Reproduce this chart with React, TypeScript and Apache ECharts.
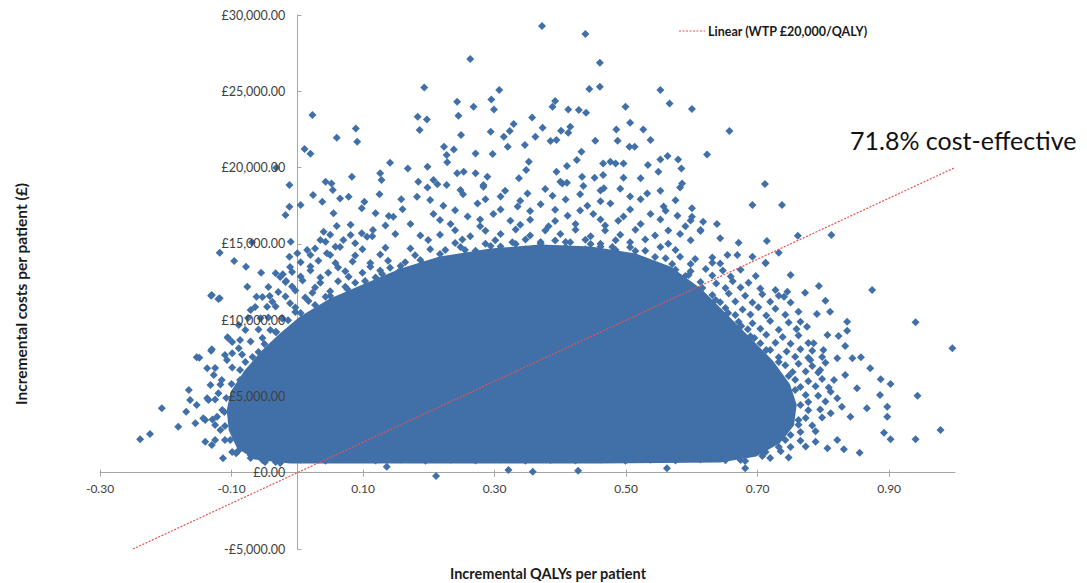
import React, { useEffect, useRef } from "react";
import * as echarts from "echarts";

const FONT = 'Lato, "Open Sans", "DejaVu Sans", sans-serif';
const POINT_COLOR = "#4170A9";
const LINE_COLOR = "#E5534F";
const LEGEND_NAME = "Linear (WTP £20,000/QALY)";
const ANNOTATION = "71.8% cost-effective";
const X_TITLE = "Incremental QALYs per patient";
const Y_TITLE = "Incremental costs per patient (£)";

// axis ticks
const xTickValues = [-0.3, -0.1, 0.1, 0.3, 0.5, 0.7, 0.9];
const xMin = -0.3;
const xMax = 1.0;
const yMin = -5000;
const yMax = 30000;
const yInterval = 5000;

// willingness-to-pay line (£20,000 per QALY)
const wtpX = [-0.25, 1.0];
const wtpY = [-5000, 20000];

// outline of the fully dense core of the simulation cloud (QALY, £)
const coreBoundary: [number, number][] = [
  [-0.011, 700], [-0.064, 960], [-0.09, 1680], [-0.102, 2800], [-0.105, 4110],
  [-0.099, 5290], [-0.079, 6600], [-0.053, 7910], [-0.026, 9020], [0.005, 10140],
  [0.05, 11320], [0.103, 12300], [0.157, 13280], [0.217, 14070], [0.294, 14590],
  [0.37, 14860], [0.446, 14730], [0.514, 14270], [0.567, 13420], [0.613, 11970],
  [0.651, 10330], [0.689, 8700], [0.722, 7250], [0.747, 5750], [0.757, 4440],
  [0.753, 3130], [0.732, 2010], [0.697, 1160], [0.643, 770], [0.461, 700], [0.233, 700],
];

// simulations lying just on the edge of the dense core
const pointsEdge: [number, number][] = [
  [0.005, 10470], [0.027, 10990], [0.05, 11580], [0.076, 12040], [0.103, 12560], [0.129, 13020],
  [0.157, 13550], [0.187, 13940], [0.217, 14330], [0.255, 14590], [0.294, 14860], [0.332, 14990],
  [0.37, 15120], [0.408, 15120], [0.446, 14990], [0.479, 14790], [0.514, 14530], [0.544, 14140],
  [0.57, 13680], [0.595, 12960], [0.616, 12100], [0.636, 11320], [0.655, 10460], [0.675, 9610],
  [0.695, 8830], [0.713, 8040], [0.732, 7250], [0.747, 6340], [0.757, 5420], [0.765, 4440],
  [0.762, 3450], [0.75, 2470], [0.732, 1680], [0.707, 1090], [0.681, 770],
  [-0.014, 10000], [-0.032, 9220], [-0.05, 8430], [-0.068, 7580], [-0.087, 6730], [-0.1, 5810],
  [-0.108, 4900], [-0.111, 3980], [-0.11, 3060], [-0.102, 2140], [-0.09, 1420], [-0.071, 960],
  [-0.049, 700], [-0.026, 640],
];

// individual simulations visible above £20,000
const pointsTop: [number, number][] = [
  [0.372, 29272], [0.438, 28748], [0.263, 27110], [0.46, 26867], [0.307, 25078], [0.444, 25144],
  [0.46, 25295], [0.552, 25078], [0.566, 24207], [0.243, 24312], [0.268, 23984], [0.295, 24469],
  [0.299, 23814], [0.245, 23394], [0.392, 24358], [0.388, 23984], [0.412, 23814], [0.428, 23768],
  [0.439, 23591], [0.499, 23984], [0.357, 23289], [0.506, 22936], [0.294, 22346], [0.249, 22130],
  [0.329, 22850], [0.323, 22392], [0.314, 22018], [0.373, 22608], [0.362, 22018], [0.401, 22411],
  [0.415, 22673], [0.412, 22280], [0.485, 22503], [0.526, 22503], [0.537, 21802], [0.487, 21756],
  [0.505, 21363], [0.513, 21363], [0.453, 21756], [0.385, 21736], [0.394, 21802], [0.223, 21363],
  [0.238, 21192], [0.227, 20819], [0.228, 20341], [0.271, 20930], [0.297, 20884], [0.32, 21363],
  [0.346, 21474], [0.352, 20380], [0.432, 21035], [0.425, 20491], [0.41, 20098], [0.465, 20275],
  [0.476, 20380], [0.484, 20275], [0.496, 20275], [0.533, 20164], [0.552, 20537], [0.563, 20753],
  [0.579, 20537], [0.023, 23440], [0.011, 21212], [0.02, 20904], [0.06, 21953], [0.089, 22569],
  [0.091, 21690], [0.141, 20314], [0.183, 23329], [0.186, 22457], [0.197, 23158], [0.193, 25255],
  [0.198, 20052], [0.6, 23833], [0.657, 22392], [0.623, 20864],
];

// individual simulations between £15,000 and £20,000
const pointsUpper: [number, number][] = [
  [0.348, 19836], [0.584, 19947], [0.585, 18964], [0.549, 19725], [0.522, 19292], [0.496, 19331],
  [0.465, 19508], [0.452, 19331], [0.433, 19397], [0.394, 19725], [0.243, 19620], [0.253, 19725],
  [0.271, 19620], [0.289, 19397], [0.207, 19181], [0.227, 18853], [0.283, 18853], [0.337, 19292],
  [0.4, 19069], [0.41, 19004], [0.466, 18637], [-0.032, 19987], [-0.012, 18853], [0.005, 17542],
  [-0.012, 17431], [-0.018, 16887], [-0.01, 15137], [-0.069, 15098], [0.024, 18198], [0.038, 17759],
  [0.043, 19069], [0.052, 18964], [0.054, 18525], [0.065, 17981], [0.078, 18086], [0.083, 19397],
  [0.055, 16998], [0.06, 16166], [0.098, 17326], [0.102, 17759], [0.119, 16998], [0.126, 19620],
  [0.128, 19181], [0.125, 18244], [0.168, 19947], [0.184, 19069], [0.182, 18086], [0.198, 18702],
  [0.158, 17916], [0.16, 17261], [0.139, 16821], [0.146, 16776], [0.04, 15793], [0.043, 15137],
  [0.035, 15249], [0.07, 15249], [0.081, 15576], [0.088, 15033], [0.098, 15688], [0.106, 15465],
  [0.115, 15904], [0.711, 18918], [0.692, 17542], [0.737, 17542], [0.761, 15531], [0.812, 15576],
  [0.6, 17326], [0.6, 16776], [0.617, 16448], [0.638, 16297], [0.613, 15904], [0.643, 15360],
  [0.671, 15072], [0.714, 15183],
];

// semi-dense fringe just above the core
const pointsFringeTop: [number, number][] = [
  [0.213, 18900], [0.283, 18750], [0.403, 18950], [0.435, 18800], [0.582, 18700],
  [0.252, 18250], [0.309, 18100], [0.35, 18300], [0.388, 18150], [0.43, 18250], [0.506, 18100], [0.532, 18300],
  [0.222, 17500], [0.274, 17650], [0.335, 17450], [0.37, 17600], [0.441, 17500], [0.476, 17650], [0.557, 17450],
  [0.207, 16950], [0.259, 16800], [0.298, 16950], [0.411, 16850], [0.45, 16950], [0.496, 16800], [0.537, 16950], [0.578, 16850],
  [0.233, 16300], [0.278, 16150], [0.339, 16250], [0.382, 16150], [0.423, 16300], [0.468, 16200], [0.522, 16300], [0.59, 16150],
  [0.217, 15600], [0.263, 15500], [0.309, 15650], [0.354, 15550], [0.4, 15650], [0.446, 15500], [0.491, 15600], [0.544, 15550], [0.582, 15650],
  [0.24, 15050], [0.286, 15000], [0.327, 15100], [0.37, 15000], [0.415, 15100], [0.461, 15000], [0.506, 15100], [0.564, 15000],
  [0.225, 14600], [0.271, 14550], [0.347, 14650], [0.392, 14550], [0.438, 14650], [0.484, 14600], [0.529, 14550], [0.575, 14600],
  [0.248, 18530], [0.316, 18480], [0.377, 18600], [0.461, 18500], [0.491, 18620], [0.552, 18480],
  [0.202, 17870], [0.286, 17920], [0.339, 17820], [0.408, 17900], [0.461, 17800], [0.522, 17930], [0.575, 17850],
  [0.24, 17210], [0.309, 17260], [0.354, 17150], [0.392, 17230], [0.43, 17180], [0.506, 17250], [0.56, 17170],
  [0.217, 16560], [0.278, 16600], [0.324, 16520], [0.354, 16580], [0.392, 16500], [0.461, 16590], [0.488, 16520], [0.552, 16600], [0.598, 16530],
  [0.24, 15900], [0.286, 15860], [0.332, 15940], [0.377, 15880], [0.423, 15920], [0.468, 15870], [0.514, 15930], [0.564, 15880], [0.613, 15850],
  [0.199, 15250], [0.251, 15290], [0.301, 15230], [0.347, 15280], [0.392, 15220], [0.438, 15270], [0.484, 15240], [0.529, 15290], [0.598, 15230],
  [0.248, 14790], [0.309, 14820], [0.408, 14780], [0.461, 14810], [0.506, 14770], [0.552, 14800],
];

// semi-dense fringe on the upper left of the core
const pointsFringeLeft: [number, number][] = [
  [0.005, 13800], [0.032, 13900], [0.058, 13750], [0.084, 13850], [0.111, 13750], [0.138, 13900], [0.164, 13800], [0.19, 13700],
  [-0.008, 13150], [0.02, 13250], [0.047, 13100], [0.073, 13200], [0.099, 13100], [0.126, 13250], [0.154, 13150], [0.179, 13050], [0.205, 13200],
  [-0.018, 12500], [0.008, 12600], [0.035, 12450], [0.062, 12550], [0.088, 12450],
  [-0.029, 11850], [-0.003, 11950], [0.023, 11800], [0.05, 11900],
  [-0.038, 11200], [-0.011, 11100], [0.017, 11250],
  [0.027, 14700], [0.065, 14800], [0.099, 14650], [0.134, 14750], [0.172, 14700], [0.202, 14650],
  [0.05, 15600], [0.114, 15500], [0.149, 15650], [0.187, 15550],
  [0.081, 16250], [0.134, 16200], [0.172, 16300],
  [0.0, 14377], [0.015, 14594], [0.02, 14266], [0.045, 14377], [0.058, 14810],
  [0.05, 14270], [0.088, 14230], [0.126, 14300], [0.179, 14250],
  [-0.011, 13480], [0.02, 13520], [0.062, 13450], [0.111, 13500], [0.141, 13430], [0.187, 13490],
  [-0.026, 12820], [0.005, 12860], [0.035, 12790], [0.078, 12840], [0.119, 12800], [0.157, 12850],
  [-0.044, 12170], [-0.008, 12210], [0.027, 12140], [0.073, 12190],
  [-0.053, 11510], [-0.018, 11550], [0.012, 11480], [0.043, 11530],
  [-0.064, 10860], [-0.033, 10900], [-0.003, 10830],
  [-0.075, 10140], [-0.044, 10180], [-0.023, 10110],
  [-0.079, 9350], [-0.059, 9390], [-0.099, 8560], [-0.071, 8600],
  [-0.11, 7710], [-0.084, 7750], [-0.125, 6860], [-0.099, 6900],
  [-0.132, 5750], [-0.117, 5790], [-0.135, 4760], [-0.125, 4800],
  [-0.14, 3450], [-0.129, 3490], [-0.125, 2140],
];

// scattered simulations left of the core
const pointsLeft: [number, number][] = [
  [-0.118, 14417], [-0.096, 13873], [-0.078, 13499], [-0.055, 13106], [-0.042, 11577], [-0.033, 13067],
  [-0.022, 13001], [-0.012, 14154], [-0.017, 12562], [-0.181, 3014], [-0.169, 3997], [-0.165, 5419],
  [-0.153, 7562], [-0.13, 11645], [-0.12, 11383], [-0.13, 8086], [-0.137, 6841], [-0.106, 8873],
  [-0.076, 12189], [-0.062, 11533], [-0.13, 1815], [-0.113, 944], [-0.093, 1271], [-0.155, 3237],
  [-0.143, 3565], [-0.122, 3670], [-0.153, 4436], [-0.137, 4875], [-0.115, 6075], [-0.127, 6402],
  [-0.107, 7385], [-0.099, 7824], [-0.089, 8152], [-0.12, 5203], [-0.089, 9679], [-0.071, 10662],
  [-0.056, 10118], [-0.046, 10878], [-0.041, 9351], [-0.087, 8696], [-0.163, 4764], [-0.117, 2798],
  [-0.14, 2031], [-0.239, 2189], [-0.224, 2536], [-0.206, 4220], [-0.149, 7536], [-0.131, 7995],
  [-0.131, 11599], [-0.118, 11428], [-0.105, 8807], [-0.114, 4109], [-0.125, 3126], [-0.11, 2143],
  [-0.099, 1356], [-0.071, 1160], [-0.053, 832], [-0.033, 701], [-0.087, 6075], [-0.079, 7254],
  [-0.059, 7910], [-0.053, 8827], [-0.033, 9220], [-0.023, 10137], [-0.003, 10530],
];

// scattered simulations right of the core
const pointsRight: [number, number][] = [
  [0.669, 14266], [0.654, 14266], [0.631, 13761], [0.75, 12955], [0.732, 14417], [0.692, 14154],
  [0.712, 13761], [0.874, 11972], [0.94, 9856], [0.996, 8152], [0.793, 12234], [0.772, 11795],
  [0.803, 11271], [0.81, 10550], [0.836, 9895], [0.836, 9305], [0.823, 8958], [0.806, 9023],
  [0.79, 10400], [0.762, 10550], [0.833, 8303], [0.844, 7497], [0.857, 7562], [0.821, 7497],
  [0.871, 6841], [0.887, 6120], [0.902, 5813], [0.943, 5046], [0.886, 5092], [0.866, 4220],
  [0.897, 4325], [0.897, 3670], [0.892, 2621], [0.902, 2189], [0.94, 2189], [0.978, 2798],
  [0.855, 1311], [0.831, 1533], [0.806, 1599], [0.841, 3670], [0.851, 5531], [0.833, 6402],
  [0.816, 6075], [0.811, 5308], [0.821, 4875], [0.828, 4325], [0.811, 3892], [0.788, 2031],
  [0.821, 2143], [0.681, 288], [0.674, 832], [0.745, 11861], [0.712, 13722], [0.727, 11972],
  [0.74, 11533], [0.775, 9567], [0.8, 8040], [0.785, 8480], [0.765, 9895], [0.78, 7385],
  [0.795, 6730], [0.803, 7208],
];

// semi-dense fringe on the right of the core
const pointsFringeRight: [number, number][] = [
  [0.56, 14050], [0.582, 14150], [0.605, 14000], [0.631, 14100],
  [0.575, 13300], [0.598, 13200], [0.621, 13350], [0.647, 13250], [0.674, 13300],
  [0.613, 12500], [0.637, 12400], [0.662, 12550], [0.686, 12450],
  [0.631, 11650], [0.656, 11750], [0.681, 11600], [0.707, 11700], [0.732, 11600],
  [0.651, 10800], [0.677, 10700], [0.701, 10850], [0.727, 10750],
  [0.671, 9900], [0.692, 9800], [0.719, 9950], [0.747, 9850],
  [0.689, 8950], [0.713, 9050], [0.738, 8900], [0.762, 9000],
  [0.719, 8050], [0.744, 7950], [0.765, 8100], [0.783, 8000],
  [0.742, 7050], [0.762, 7150], [0.783, 7000],
  [0.757, 6100], [0.777, 6000], [0.798, 6150],
  [0.773, 5100], [0.792, 5050],
  [0.777, 4100], [0.795, 4150],
  [0.762, 3150], [0.783, 3100],
  [0.742, 2150], [0.765, 2100],
  [0.712, 1350], [0.735, 1400],
  [0.598, 13680], [0.643, 13720],
  [0.59, 12890], [0.631, 12930], [0.659, 12860], [0.697, 12900],
  [0.651, 12100], [0.674, 12140], [0.704, 12070],
  [0.643, 11180], [0.666, 11220], [0.692, 11150], [0.719, 11200], [0.75, 11160],
  [0.666, 10330], [0.689, 10370], [0.713, 10300], [0.742, 10350],
  [0.685, 9400], [0.704, 9440], [0.732, 9370], [0.759, 9420],
  [0.704, 8480], [0.727, 8520], [0.75, 8450], [0.777, 8500],
  [0.732, 7560], [0.757, 7600], [0.777, 7530], [0.798, 7580],
  [0.753, 6600], [0.773, 6640], [0.792, 6570],
  [0.765, 5620], [0.788, 5660], [0.808, 5590],
  [0.777, 4630], [0.803, 4670],
  [0.773, 3580], [0.798, 3620],
  [0.765, 2670], [0.788, 2710],
  [0.75, 1680], [0.773, 1720],
  [0.719, 960], [0.747, 1000],
];

// simulations along the lower edge of the cloud
const pointsBottom: [number, number][] = [
  [0.211, -216], [0.321, 177], [0.358, 66], [0.427, 131], [0.562, 288], [0.136, 393],
  [0.005, 850], [0.043, 790], [0.081, 880], [0.119, 800], [0.157, 860], [0.195, 780],
  [0.233, 850], [0.271, 800], [0.309, 870], [0.347, 790], [0.385, 840], [0.423, 800],
  [0.461, 860], [0.499, 780], [0.537, 850], [0.575, 800], [0.613, 870], [0.651, 820],
];

const allPoints = [
  ...pointsEdge, ...pointsTop, ...pointsUpper, ...pointsFringeTop, ...pointsFringeLeft,
  ...pointsLeft, ...pointsRight, ...pointsFringeRight, ...pointsBottom,
];

const fmtMoney = (v: number) => {
  const abs = Math.abs(v).toLocaleString("en-GB", { minimumFractionDigits: 2, maximumFractionDigits: 2 });
  return (v < 0 ? "-£" : "£") + abs;
};

const W = 1087;
const H = 583;
const GRID = { left: 100, right: 132, top: 15, bottom: 34 };

export default function App() {
  const ref = useRef<HTMLDivElement>(null);
  useEffect(() => {
    document.body.style.margin = "0";
    if (!ref.current) return;
    const chart = echarts.init(ref.current, undefined, { renderer: "svg" });
    const gridW = W - GRID.left - GRID.right;
    const gridH = H - GRID.top - GRID.bottom;
    // shift axes so they cross at the origin (0, £0)
    const yAxisShift = -gridW * ((0 - xMin) / (xMax - xMin));
    const xAxisShift = -gridH * ((0 - yMin) / (yMax - yMin));
    const axisColor = "#A6A6A6";
    const xLabelStyle = { fontFamily: FONT, fontSize: 12, color: "#404040" };
    const yLabelStyle = { fontFamily: FONT, fontSize: 12.5, color: "#404040" };
    chart.setOption({
      animation: false,
      backgroundColor: "#ffffff",
      grid: { ...GRID, containLabel: false },
      xAxis: [
        {
          type: "value",
          min: xMin,
          max: xMax,
          position: "bottom",
          offset: xAxisShift,
          axisLine: { show: true, onZero: false, lineStyle: { color: axisColor, width: 1 } },
          axisTick: { show: true, customValues: xTickValues, length: 4, lineStyle: { color: axisColor } },
          axisLabel: {
            customValues: xTickValues,
            formatter: (v: number) => v.toFixed(2),
            margin: 10,
            ...xLabelStyle,
          },
          splitLine: { show: false },
        },
        {
          type: "value",
          min: xMin,
          max: xMax,
          position: "bottom",
          offset: xAxisShift,
          axisLine: { show: false, onZero: false },
          axisTick: { show: true, inside: true, customValues: xTickValues, length: 3, lineStyle: { color: axisColor } },
          axisLabel: { show: false },
          splitLine: { show: false },
        },
      ],
      yAxis: [
        {
          type: "value",
          min: yMin,
          max: yMax,
          interval: yInterval,
          position: "left",
          offset: yAxisShift,
          z: 0,
          axisLine: { show: true, onZero: false, lineStyle: { color: axisColor, width: 1 } },
          axisTick: { show: true, inside: true, length: 4, lineStyle: { color: axisColor } },
          axisLabel: { show: false },
          splitLine: { show: false },
        },
        {
          type: "value",
          min: yMin,
          max: yMax,
          interval: yInterval,
          position: "left",
          offset: yAxisShift,
          z: 10,
          axisLine: { show: false, onZero: false },
          axisTick: { show: false },
          axisLabel: { formatter: fmtMoney, margin: 12, ...yLabelStyle },
          splitLine: { show: false },
        },
      ],
      series: [
        {
          type: "custom",
          name: "core",
          z: 2,
          silent: true,
          data: coreBoundary,
          encode: { x: 0, y: 1 },
          renderItem: (params: any, api: any) => {
            if (params.dataIndex !== 0) return null;
            const pts = coreBoundary.map((p) => api.coord(p));
            return {
              type: "polygon",
              shape: { points: pts },
              style: { fill: POINT_COLOR, stroke: POINT_COLOR, lineWidth: 3 },
            };
          },
        },
        {
          type: "scatter",
          name: "Simulations",
          z: 3,
          silent: true,
          symbol: "diamond",
          symbolSize: 8,
          itemStyle: { color: POINT_COLOR, opacity: 1 },
          data: allPoints,
        },
        {
          type: "line",
          name: LEGEND_NAME,
          z: 5,
          silent: true,
          symbol: "none",
          lineStyle: { color: LINE_COLOR, width: 1.2, type: [2, 1.5] },
          itemStyle: { color: LINE_COLOR },
          data: wtpX.map((x, i) => [x, wtpY[i]]),
        },
      ],
      graphic: [
        {
          type: "line",
          shape: { x1: 679, y1: 31, x2: 705, y2: 31 },
          style: { stroke: LINE_COLOR, lineWidth: 1.2, lineDash: [2, 1.5] },
        },
        {
          type: "text",
          x: 708,
          y: 31,
          style: {
            text: LEGEND_NAME,
            fontFamily: FONT,
            fontWeight: "bold",
            fontSize: 12.5,
            fill: "#1a1a1a",
            verticalAlign: "middle",
            align: "left",
          },
        },
        {
          type: "text",
          x: 850,
          y: 140,
          style: {
            text: ANNOTATION,
            fontFamily: FONT,
            fontSize: 25,
            fill: "#111111",
            verticalAlign: "middle",
            align: "left",
          },
        },
        {
          type: "text",
          x: 548,
          y: 573,
          style: {
            text: X_TITLE,
            fontFamily: FONT,
            fontWeight: "bold",
            fontSize: 14.5,
            fill: "#1a1a1a",
            align: "center",
            verticalAlign: "middle",
          },
        },
        {
          type: "text",
          x: 21,
          y: 294,
          rotation: Math.PI / 2,
          style: {
            text: Y_TITLE,
            fontFamily: FONT,
            fontWeight: "bold",
            fontSize: 15.5,
            fill: "#1a1a1a",
            align: "center",
            verticalAlign: "middle",
          },
        },
      ],
    });
    return () => chart.dispose();
  }, []);
  return <div ref={ref} style={{ width: W, height: H }} />;
}
